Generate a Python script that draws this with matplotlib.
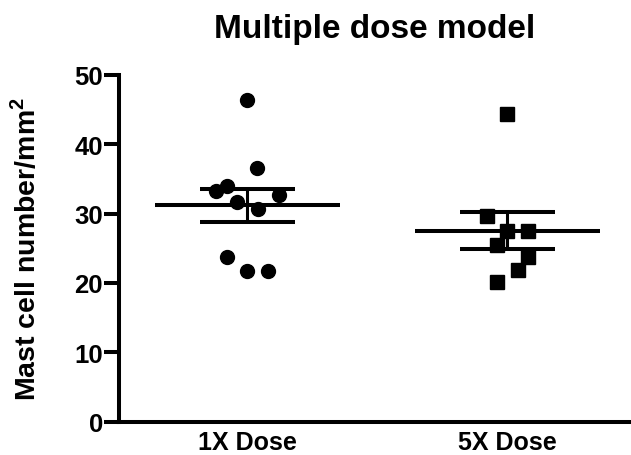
import numpy as np
import matplotlib
matplotlib.use("Agg")
import matplotlib.pyplot as plt

plt.rcParams['font.family'] = ['Liberation Sans', 'DejaVu Sans']
plt.rcParams['font.weight'] = 'bold'
plt.rcParams['mathtext.fontset'] = 'custom'
plt.rcParams['mathtext.rm'] = 'Liberation Sans:bold'
plt.rcParams['mathtext.bf'] = 'Liberation Sans:bold'

groups = ["1X Dose", "5X Dose"]
dose_1x = [46.4, 36.5, 33.2, 33.9, 31.7, 32.7, 30.6, 23.8, 21.7, 21.7]
dose_5x = [44.3, 29.6, 27.5, 27.5, 25.4, 23.8, 21.8, 20.2]
# horizontal spread of the points so they don't overlap
spread_1x = [0.0, 0.038, -0.121, -0.079, -0.039, 0.121, 0.039, -0.079, 0.0, 0.079]
spread_5x = [0.0, -0.080, 0.0, 0.080, -0.040, 0.080, 0.039, -0.040]

fig = plt.figure(figsize=(6.31, 4.56), dpi=100)
ax = fig.add_axes([0.1886, 0.0724, 0.8114, 0.762])

lw = 2.9
for i, (vals, spr, mk, ms) in enumerate([(dose_1x, spread_1x, 'o', 10),
                                          (dose_5x, spread_5x, 's', 9.5)]):
    pos = i + 1
    vals = np.array(vals)
    mean = vals.mean()
    sem = vals.std(ddof=1) / np.sqrt(len(vals))
    ax.plot(pos + np.array(spr), vals, linestyle='none', marker=mk,
            markersize=ms, color='black', zorder=3)
    # mean line and SEM bars
    ax.hlines(mean, pos - 0.354, pos + 0.354, color='black', lw=lw, zorder=4)
    ax.hlines([mean - sem, mean + sem], pos - 0.183, pos + 0.183,
              color='black', lw=lw, zorder=4)
    ax.vlines(pos, mean - sem, mean + sem, color='black', lw=2.2, zorder=4)

ax.set_xlim(0.506, 2.475)
ax.set_ylim(0, 50)
ax.set_xticks([1, 2])
ax.set_xticklabels(groups, fontsize=18, fontweight='bold')
ax.set_yticks([0, 10, 20, 30, 40, 50])
ax.tick_params(axis='y', length=10.5, width=lw, labelsize=18.5, pad=1)
ax.tick_params(axis='x', length=0, pad=6)

for s in ['top', 'right']:
    ax.spines[s].set_visible(False)
for s in ['left', 'bottom']:
    ax.spines[s].set_linewidth(lw)
ax.spines['left'].set_capstyle('projecting')

ax.set_ylabel(r"Mast cell number/mm$^{\mathbf{2}}$", fontsize=20.5,
              fontweight='bold', labelpad=24)
ax.set_title("Multiple dose model", fontsize=24, fontweight='bold', pad=27)

plt.savefig("out.png", dpi=100)
